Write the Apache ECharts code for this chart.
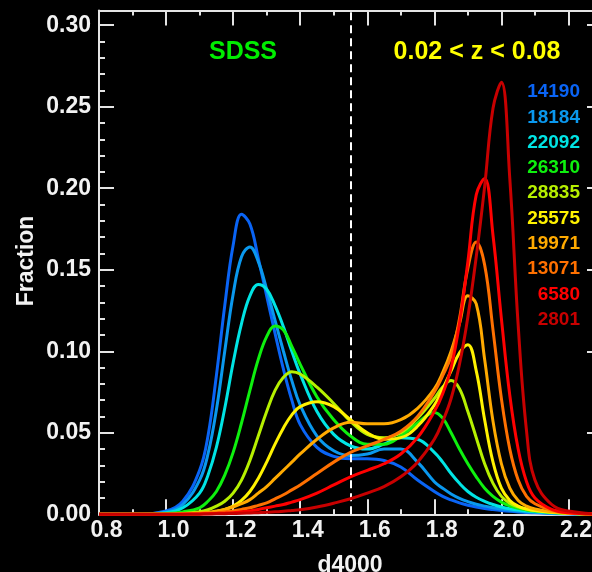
<!DOCTYPE html>
<html>
<head>
<meta charset="utf-8">
<script src="https://cdn.jsdelivr.net/npm/echarts@6/dist/echarts.min.js"></script>
<style>
  html, body { margin: 0; padding: 0; background: #000; }
  #chart { width: 592px; height: 572px; }
</style>
</head>
<body>
<div id="chart"></div>
<script>
// D4000 sampling grid shared by every curve
const d4000 = [0.8, 0.9, 1.0, 1.05, 1.1, 1.125, 1.15, 1.175, 1.2, 1.225,
  1.25, 1.275, 1.3, 1.325, 1.35, 1.375, 1.4,
  1.45, 1.5, 1.55, 1.6, 1.65, 1.7, 1.75,
  1.8, 1.825, 1.85, 1.875, 1.9, 1.925, 1.95, 1.975, 2.0, 2.025, 2.05, 2.075, 2.1,
  2.15, 2.2, 2.3];

// Fraction of galaxies per D4000 bin, one array per sample (named by galaxy count)
const frac14190 = [0, 0, 0.002, 0.008, 0.027, 0.048, 0.085, 0.128, 0.165, 0.184,
  0.178, 0.157, 0.134, 0.111, 0.089, 0.070, 0.055,
  0.041, 0.0355, 0.034, 0.034, 0.033, 0.029, 0.021,
  0.014, 0.011, 0.0088, 0.007, 0.0056, 0.0045, 0.0036, 0.0029, 0.0023, 0.0018, 0.0014, 0.0011, 0.0009,
  0.0005, 0.0003, 0];
const frac18184 = [0, 0, 0.0015, 0.006, 0.021, 0.037, 0.064, 0.100, 0.135, 0.158,
  0.164, 0.155, 0.138, 0.119, 0.100, 0.082, 0.067,
  0.048, 0.039, 0.036, 0.037, 0.040, 0.040, 0.032,
  0.020, 0.016, 0.0125, 0.0098, 0.0078, 0.0062, 0.005, 0.004, 0.0032, 0.0025, 0.002, 0.0016, 0.0012,
  0.0007, 0.0004, 0];
const frac22092 = [0, 0, 0.001, 0.004, 0.013, 0.024, 0.041, 0.065, 0.093, 0.117,
  0.134, 0.141, 0.138, 0.128, 0.115, 0.100, 0.086,
  0.063, 0.049, 0.042, 0.040, 0.043, 0.047, 0.046,
  0.038, 0.032, 0.025, 0.019, 0.014, 0.0105, 0.008, 0.006, 0.0045, 0.0034, 0.0026, 0.002, 0.0015,
  0.0009, 0.0005, 0];
const frac26310 = [0, 0, 0.0005, 0.0015, 0.004, 0.008, 0.014, 0.024, 0.038, 0.056,
  0.076, 0.095, 0.109, 0.1155, 0.113, 0.103, 0.092,
  0.072, 0.058, 0.048, 0.043, 0.043, 0.048, 0.056,
  0.0625, 0.059, 0.050, 0.040, 0.031, 0.023, 0.016, 0.011, 0.0075, 0.0052, 0.0037, 0.0027, 0.002,
  0.0011, 0.0006, 0];
const frac28835 = [0, 0, 0, 0.0005, 0.0015, 0.0028, 0.005, 0.008, 0.013, 0.021,
  0.033, 0.048, 0.063, 0.076, 0.084, 0.0875, 0.086,
  0.078, 0.068, 0.057, 0.049, 0.047, 0.050, 0.059,
  0.071, 0.078, 0.082, 0.077, 0.063, 0.047, 0.031, 0.019, 0.011, 0.0068, 0.0045, 0.0031, 0.0023,
  0.0012, 0.0006, 0];
const frac25575 = [0, 0, 0, 0.0002, 0.0005, 0.001, 0.0018, 0.003, 0.005, 0.0085,
  0.014, 0.022, 0.032, 0.043, 0.053, 0.061, 0.066,
  0.069, 0.066, 0.058, 0.050, 0.046, 0.047, 0.054,
  0.067, 0.077, 0.088, 0.099, 0.104, 0.088, 0.058, 0.032, 0.016, 0.0085, 0.005, 0.0033, 0.0023,
  0.0012, 0.0006, 0];
const frac19971 = [0, 0, 0, 0.0004, 0.0008, 0.0012, 0.002, 0.003, 0.0045, 0.0065,
  0.009, 0.013, 0.017, 0.022, 0.027, 0.032, 0.037,
  0.046, 0.053, 0.0565, 0.0555, 0.0555, 0.058, 0.065,
  0.077, 0.087, 0.100, 0.117, 0.134, 0.129, 0.095, 0.057, 0.031, 0.016, 0.0085, 0.005, 0.0032,
  0.0015, 0.0007, 0];
const frac13071 = [0, 0, 0, 0.0002, 0.0004, 0.0007, 0.001, 0.0015, 0.002, 0.003,
  0.004, 0.0055, 0.007, 0.0095, 0.012, 0.015, 0.018,
  0.025, 0.032, 0.038, 0.042, 0.046, 0.051, 0.060,
  0.075, 0.085, 0.097, 0.120, 0.151, 0.167, 0.153, 0.113, 0.071, 0.040, 0.021, 0.011, 0.0065,
  0.0025, 0.001, 0];
const frac6580 = [0, 0, 0, 0.0001, 0.0002, 0.0003, 0.0005, 0.0007, 0.001, 0.0015,
  0.002, 0.003, 0.004, 0.005, 0.006, 0.0075, 0.009,
  0.013, 0.018, 0.023, 0.027, 0.031, 0.037, 0.047,
  0.063, 0.074, 0.090, 0.117, 0.155, 0.196, 0.206, 0.171, 0.120, 0.073, 0.040, 0.020, 0.010,
  0.003, 0.001, 0];
const frac2801 = [0, 0, 0, 0, 0.0001, 0.0002, 0.0003, 0.0004, 0.0005, 0.0006,
  0.0008, 0.001, 0.0012, 0.0015, 0.0018, 0.0023, 0.0028,
  0.0045, 0.0068, 0.0095, 0.013, 0.017, 0.023, 0.032,
  0.046, 0.057, 0.071, 0.092, 0.121, 0.158, 0.201, 0.249, 0.265, 0.206, 0.116, 0.051, 0.021,
  0.006, 0.002, 0];

const sampleCounts = ['14190', '18184', '22092', '26310', '28835', '25575', '19971', '13071', '6580', '2801'];
const sampleFractions = [frac14190, frac18184, frac22092, frac26310, frac28835,
  frac25575, frac19971, frac13071, frac6580, frac2801];
const sampleColors = ['#0a64f5', '#0a98ee', '#00e4e4', '#0ef00e', '#b6f000',
  '#fff200', '#ffaa00', '#ff7000', '#ff0000', '#c80000'];

// Tick labels
const xTickLabels = ['0.8', '1.0', '1.2', '1.4', '1.6', '1.8', '2.0', '2.2'];
const yTickLabels = ['0.00', '0.05', '0.10', '0.15', '0.20', '0.25', '0.30'];

const dividerD4000 = 1.55;
const xMin = 0.8, xMax = 2.3, yMin = 0, yMax = 0.309;

const axisColor = '#e4e4e4';
const textFont = '"Liberation Sans", Arial, Helvetica, sans-serif';

function xAxisDef(position, interval, tickLen, withLabels) {
  return {
    type: 'value', position: position, min: xMin, max: xMax, interval: interval,
    axisLine: { show: tickLen > 10, onZero: false, lineStyle: { color: axisColor, width: 2 } },
    axisTick: { show: true, inside: true, length: tickLen, lineStyle: { color: axisColor, width: 2 } },
    splitLine: { show: false },
    axisLabel: withLabels ? {
      show: true, color: '#f2f2f2', fontSize: 23, fontWeight: 'bold', fontFamily: textFont,
      margin: 5, padding: [0, 0, 0, 15],
      formatter: function (v) {
        const s = v.toFixed(1);
        return xTickLabels.indexOf(s) >= 0 && Math.abs(v - parseFloat(s)) < 1e-6 ? s : '';
      }
    } : { show: false }
  };
}
function yAxisDef(position, interval, tickLen, withLabels) {
  return {
    type: 'value', position: position, min: yMin, max: yMax, interval: interval,
    axisLine: { show: tickLen > 10, onZero: false, lineStyle: { color: axisColor, width: 2 } },
    axisTick: { show: true, inside: true, length: tickLen, lineStyle: { color: axisColor, width: 2 } },
    splitLine: { show: false },
    axisLabel: withLabels ? {
      show: true, color: '#f2f2f2', fontSize: 23, fontWeight: 'bold', fontFamily: textFont,
      margin: 8,
      formatter: function (v) {
        const s = v.toFixed(2);
        return yTickLabels.indexOf(s) >= 0 && Math.abs(v - parseFloat(s)) < 1e-6 ? s : '';
      }
    } : { show: false }
  };
}

const series = sampleCounts.map(function (name, i) {
  const s = {
    name: name, type: 'line', xAxisIndex: 0, yAxisIndex: 0,
    data: d4000.map(function (x, k) { return [x, sampleFractions[i][k]]; }),
    showSymbol: false, symbol: 'none', smooth: 0.4, clip: false,
    lineStyle: { color: sampleColors[i], width: 3 },
    itemStyle: { color: sampleColors[i] },
    z: 3 + i
  };
  if (i === 0) {
    s.markLine = {
      silent: true, symbol: ['none', 'none'], label: { show: false },
      lineStyle: { color: '#ffffff', width: 2, type: [8, 5] },
      data: [{ xAxis: dividerD4000 }]
    };
  }
  return s;
});

const legendTexts = sampleCounts.map(function (name, i) {
  return {
    type: 'text', x: 580, y: 92 + i * 25.3, z: 100,
    style: { text: name, fill: sampleColors[i], font: 'bold 19px ' + textFont, align: 'right', verticalAlign: 'middle' }
  };
});

const chart = echarts.init(document.getElementById('chart'), null, { renderer: 'canvas' });
chart.setOption({
  backgroundColor: '#000000',
  animation: false,
  grid: { left: 99, top: 10.5, right: -10, bottom: 57.7, containLabel: false, outerBoundsMode: 'none' },
  xAxis: [
    xAxisDef('bottom', 0.2, 15, true),
    xAxisDef('bottom', 0.1, 5, false),
    xAxisDef('top', 0.2, 15, false),
    xAxisDef('top', 0.1, 5, false)
  ],
  yAxis: [
    yAxisDef('left', 0.05, 15, true),
    yAxisDef('left', 0.01, 6, false),
    yAxisDef('right', 0.05, 15, false),
    yAxisDef('right', 0.01, 6, false)
  ],
  series: series,
  graphic: [
    { type: 'text', x: 243, y: 52.5, z: 100,
      style: { text: 'SDSS', fill: '#00ee00', font: 'bold 25px ' + textFont, align: 'center', verticalAlign: 'middle' } },
    { type: 'text', x: 477, y: 52.5, z: 100,
      style: { text: '0.02 < z < 0.08', fill: '#ffff00', font: 'bold 25px ' + textFont, align: 'center', verticalAlign: 'middle' } },
    { type: 'text', x: 27, y: 261, rotation: Math.PI / 2, z: 100,
      style: { text: 'Fraction', fill: '#f2f2f2', font: 'bold 23px ' + textFont, align: 'center', verticalAlign: 'middle' } },
    { type: 'text', x: 350, y: 566, z: 100,
      style: { text: 'd4000', fill: '#f2f2f2', font: 'bold 23px ' + textFont, align: 'center', verticalAlign: 'middle' } }
  ].concat(legendTexts)
});
</script>
</body>
</html>
